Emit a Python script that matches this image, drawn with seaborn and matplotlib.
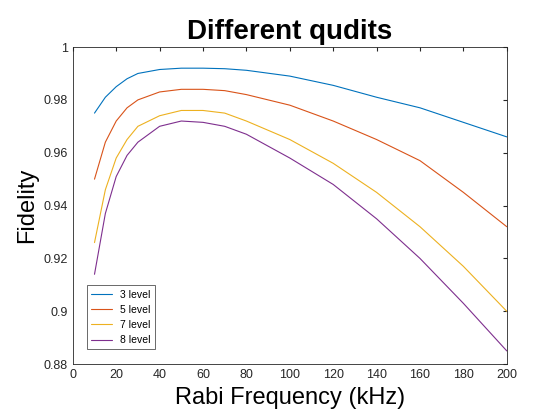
import matplotlib
matplotlib.use("Agg")
import matplotlib.pyplot as plt
import seaborn as sns
import pandas as pd

rabi = [10, 15, 20, 25, 30, 40, 50, 60, 70, 80, 100, 120, 140, 160, 180, 200]
lvl3 = [0.975, 0.981, 0.985, 0.988, 0.990, 0.9915, 0.992, 0.992, 0.9918, 0.9912, 0.989, 0.9855, 0.981, 0.977, 0.9715, 0.966]
lvl5 = [0.950, 0.964, 0.972, 0.977, 0.980, 0.983, 0.984, 0.984, 0.9835, 0.982, 0.978, 0.972, 0.965, 0.957, 0.945, 0.932]
lvl7 = [0.926, 0.946, 0.958, 0.965, 0.970, 0.974, 0.976, 0.976, 0.975, 0.972, 0.965, 0.956, 0.945, 0.932, 0.917, 0.900]
lvl8 = [0.914, 0.937, 0.951, 0.959, 0.964, 0.970, 0.972, 0.9715, 0.970, 0.967, 0.958, 0.948, 0.935, 0.920, 0.903, 0.885]
names = ["3 level", "5 level", "7 level", "8 level"]
colors = ["#0072BD", "#D95319", "#EDB120", "#7E2F8E"]

rows = []
for n, s in zip(names, [lvl3, lvl5, lvl7, lvl8]):
    for x, y in zip(rabi, s):
        rows.append({"Rabi": x, "Fidelity": y, "Level": n})
df = pd.DataFrame(rows)

sns.set_style("white")
plt.rcParams['font.family'] = ['Liberation Sans', 'DejaVu Sans']
plt.rcParams['text.color'] = 'black'
fig = plt.figure(figsize=(5.6, 4.2), dpi=100)
ax = fig.add_axes([0.130, 0.133, 0.775, 0.755])
sns.lineplot(data=df, x="Rabi", y="Fidelity", hue="Level", palette=colors, ax=ax, linewidth=0.8)
ax.set_xlim(0, 200)
ax.set_ylim(0.88, 1.0)
ax.set_xticks(range(0, 201, 20))
ax.set_yticks([0.88, 0.9, 0.92, 0.94, 0.96, 0.98, 1.0])
ax.set_yticklabels(["0.88", "0.9", "0.92", "0.94", "0.96", "0.98", "1"])
ax.tick_params(direction="in", labelsize=9, length=3, top=True, right=True, colors="#262626")
for sp in ax.spines.values():
    sp.set_color("#262626"); sp.set_linewidth(0.6)
ax.set_xlabel("Rabi Frequency (kHz)", fontsize=17, color="black")
ax.set_ylabel("Fidelity", fontsize=17, color="black")
ax.set_title("Different qudits", fontsize=20, fontweight="bold", color="black")
leg = ax.legend(loc="lower left", fontsize=7.5, frameon=True, fancybox=False, edgecolor="#262626",
                bbox_to_anchor=(0.02, 0.03))
leg.get_frame().set_linewidth(0.6)
for t in leg.get_texts():
    t.set_color("black")
fig.savefig("out.png", dpi=100)
